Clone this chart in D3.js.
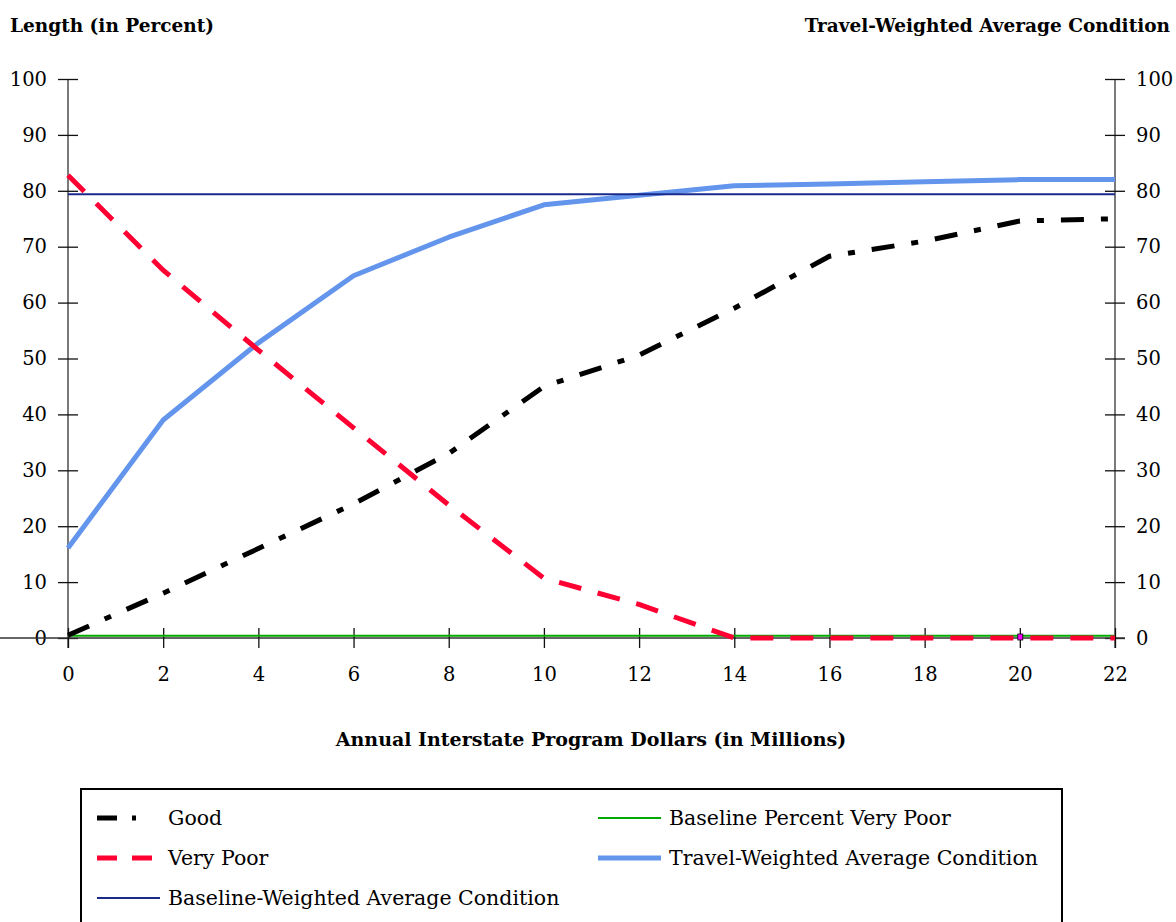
<!DOCTYPE html>
<html><head><meta charset="utf-8">
<script src="https://cdn.jsdelivr.net/npm/d3@7"></script>
<style>body{margin:0;background:#fff}svg{display:block}text{font-family:"DejaVu Serif",serif;fill:#000}</style>
</head><body>
<svg id="c" width="1176" height="922"></svg>
<script>
const xValues = [0,2,4,6,8,10,12,14,16,18,20,22];
const good = [0.5,8,16,24,33,45,50.6,59,68.3,71,74.6,75];
const veryPoor = [82.8,65.8,51.5,37.6,23.8,10.7,6,0,0,0,0,0];
const travelWeighted = [16.1,39,52.8,64.8,71.7,77.5,79.2,80.9,81.2,81.6,82,82];
const baselineWeighted = 79.4;
const baselineVeryPoor = 0.4;
const xTicks = [0,2,4,6,8,10,12,14,16,18,20,22];
const yTicks = [0,10,20,30,40,50,60,70,80,90,100];

const svg = d3.select("#c");
const x = d3.scaleLinear().domain([0,22]).range([68,1115]);
const y = d3.scaleLinear().domain([0,100]).range([638,79]);
const FS = 19.5;

// titles
svg.append("text").attr("x",10).attr("y",32).attr("font-size",18.5).attr("font-weight","bold").text("Length (in Percent)");
svg.append("text").attr("x",1170).attr("y",32).attr("font-size",18.5).attr("font-weight","bold").attr("text-anchor","end").text("Travel-Weighted Average Condition");
svg.append("text").attr("x",591).attr("y",746).attr("font-size",19).attr("font-weight","bold").attr("text-anchor","middle").text("Annual Interstate Program Dollars (in Millions)");

// axes
const axL = svg.append("g").attr("transform","translate(68,0)")
  .call(d3.axisLeft(y).tickValues(yTicks).tickSize(10).tickPadding(11).tickSizeOuter(0));
axL.selectAll(".tick line").attr("x1",10);
const axR = svg.append("g").attr("transform","translate(1115,0)")
  .call(d3.axisRight(y).tickValues(yTicks).tickSize(10).tickPadding(11).tickSizeOuter(0));
axR.selectAll(".tick line").attr("x1",-10);
const axB = svg.append("g").attr("transform","translate(0,638)")
  .call(d3.axisBottom(x).tickValues(xTicks).tickSize(10).tickPadding(19).tickSizeOuter(0));
axB.selectAll(".tick line").attr("y1",-10);
[axL,axR,axB].forEach(a=>{
  a.selectAll("text").attr("font-size",FS).attr("font-family","DejaVu Serif, serif");
  a.selectAll("line").attr("stroke","#111").attr("stroke-width",1.3);
  a.select(".domain").attr("stroke","#333").attr("stroke-width",1.3);
});
axL.select(".domain").attr("d","M0,79V648");
axR.select(".domain").attr("d","M0,79V648");
axB.select(".domain").attr("d","M-10,0H1125");

const line = d3.line().x((d,i)=>x(xValues[i])).y(d=>y(d));

// travel weighted
svg.append("path").attr("d",line(travelWeighted)).attr("fill","none").attr("stroke","#6495ED").attr("stroke-width",5).attr("stroke-linejoin","round");
// baseline weighted
svg.append("line").attr("x1",x(0)).attr("x2",x(22)).attr("y1",y(baselineWeighted)).attr("y2",y(baselineWeighted)).attr("stroke","#1a2a8c").attr("stroke-width",2);
// baseline very poor
svg.append("line").attr("x1",x(0)).attr("x2",x(22)).attr("y1",y(baselineVeryPoor)).attr("y2",y(baselineVeryPoor)).attr("stroke","#00aa00").attr("stroke-width",2);
// very poor
svg.append("path").attr("d",line(veryPoor)).attr("fill","none").attr("stroke","#ff0033").attr("stroke-width",5).attr("stroke-dasharray","23 17");
// marker
svg.append("rect").attr("x",x(20)-2).attr("y",y(0)-4).attr("width",5).attr("height",6).attr("fill","#ff00ff").attr("stroke","#000").attr("stroke-width",0.8);
// good
svg.append("path").attr("d",line(good)).attr("fill","none").attr("stroke","#000").attr("stroke-width",5).attr("stroke-dasharray","23 17 7 17");

// legend
svg.append("rect").attr("x",81).attr("y",789).attr("width",981).attr("height",160).attr("fill","none").attr("stroke","#000").attr("stroke-width",2);
const legend = [
  {label:"Good", col:0,row:0, color:"#000", w:5, dash:"20 15 4 100"},
  {label:"Very Poor", col:0,row:1, color:"#ff0033", w:5, dash:"20 15 20 100"},
  {label:"Baseline-Weighted Average Condition", col:0,row:2, color:"#1a2a8c", w:2, dash:null},
  {label:"Baseline Percent Very Poor", col:1,row:0, color:"#00aa00", w:2, dash:null},
  {label:"Travel-Weighted Average Condition", col:1,row:1, color:"#6495ED", w:5, dash:null}
];
legend.forEach(l=>{
  const lx = l.col===0?97:598, ly = 818 + l.row*40;
  const ln = svg.append("line").attr("x1",lx).attr("x2",lx+63).attr("y1",ly).attr("y2",ly).attr("stroke",l.color).attr("stroke-width",l.w);
  if(l.dash) ln.attr("stroke-dasharray",l.dash);
  svg.append("text").attr("x",lx+71).attr("y",ly+7).attr("font-size",20.5).text(l.label);
});
</script>
</body></html>
